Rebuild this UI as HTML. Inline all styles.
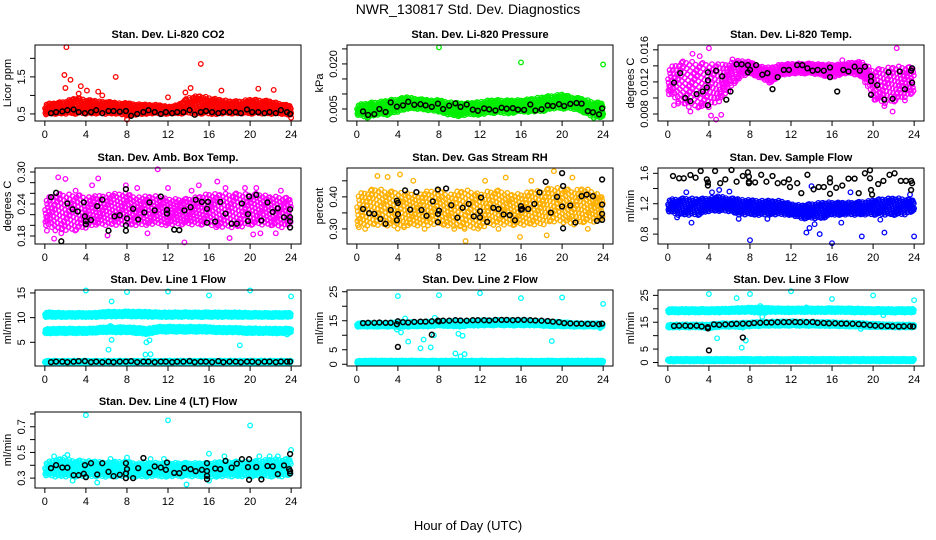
<!DOCTYPE html>
<html><head><meta charset="utf-8"><title>NWR_130817 Std. Dev. Diagnostics</title>
<style>
html,body{margin:0;padding:0;background:#fff;}
svg{display:block;font-family:"Liberation Sans",sans-serif;}
</style></head>
<body>
<svg id="chart" xmlns="http://www.w3.org/2000/svg" width="936" height="540" viewBox="0 0 936 540">
<rect x="0" y="0" width="936" height="540" fill="#fff"/>
<text x="468" y="14" text-anchor="middle" font-size="14">NWR_130817  Std. Dev. Diagnostics</text>
<text x="468" y="530" text-anchor="middle" font-size="13">Hour of Day (UTC)</text>
<g id="panels"></g>
</svg>
<script>
// ---------- shared ----------
const xTicks = [0,4,8,12,16,20,24];
const bh = [0.6,1.1,1.7,2.2,2.8,3.3,3.9,4.5,5.0,5.6,6.2,6.7,7.3,7.9,8.4,9.0,9.6,10.1,10.7,11.3,11.8,12.4,12.9,13.5,14.1,14.6,15.2,15.7,16.3,16.9,17.4,18.0,18.6,19.1,19.7,20.2,20.8,21.4,21.9,22.5,23.0,23.6,23.9];

// ---------- P1 CO2 ----------
const co2Lo = [0.48,0.5,0.5,0.5,0.5,0.5,0.5,0.5,0.45,0.48,0.5,0.5,0.5,0.5,0.5,0.5,0.48,0.5,0.5,0.5,0.5,0.5,0.5,0.5,0.45];
const co2Hi = [0.78,0.8,0.85,0.95,0.9,0.85,0.85,0.8,0.8,0.78,0.75,0.75,0.7,0.75,0.95,1.0,0.95,0.9,0.85,0.85,0.9,0.88,0.85,0.78,0.72];
const co2OutX = [2.1,1.9,2.5,2.0,6.9,15.2,3.5,4.1,5.2,14.2,17.2,20.8,22.3,13.7,8.0,24.0,3.3,5.6,12.0];
const co2OutY = [2.3,1.55,1.42,1.2,1.5,1.85,1.25,1.13,1.1,1.2,1.13,1.18,1.15,1.08,0.35,0.4,1.05,1.0,0.95];
const co2Blk = [0.52,0.55,0.57,0.6,0.62,0.55,0.52,0.55,0.6,0.52,0.58,0.58,0.56,0.58,0.45,0.5,0.55,0.6,0.55,0.5,0.55,0.52,0.55,0.55,0.6,0.48,0.55,0.58,0.55,0.52,0.55,0.55,0.55,0.52,0.62,0.55,0.55,0.52,0.55,0.52,0.6,0.55,0.5];

// ---------- P2 Pressure ----------
const prLo = [0.003,0.002,0.003,0.003,0.004,0.005,0.005,0.0045,0.004,0.003,0.0025,0.003,0.003,0.0035,0.0035,0.0035,0.004,0.004,0.004,0.005,0.005,0.005,0.004,0.002,0.002];
const prHi = [0.0065,0.007,0.0075,0.008,0.0085,0.009,0.0085,0.008,0.008,0.0075,0.007,0.007,0.0075,0.008,0.008,0.008,0.008,0.0085,0.009,0.0095,0.01,0.009,0.0085,0.0075,0.007];
const prOutX = [8,16,24];
const prOutY = [0.0255,0.0205,0.0198];
const prBlk = [0.0042,0.0030,0.0033,0.0050,0.0040,0.0072,0.0058,0.0062,0.0074,0.0064,0.0066,0.0062,0.0057,0.0068,0.0050,0.0061,0.0069,0.0057,0.0065,0.0048,0.0044,0.0052,0.0049,0.0045,0.0054,0.0051,0.0053,0.0048,0.0047,0.0065,0.0045,0.0049,0.0062,0.0060,0.0066,0.0060,0.0067,0.0070,0.0068,0.0043,0.0039,0.0032,0.0052];

// ---------- P3 Li-820 Temp ----------
const tmpLo = [0.0105,0.0095,0.0088,0.0088,0.0088,0.0095,0.011,0.0125,0.013,0.0125,0.0118,0.0128,0.013,0.013,0.013,0.0128,0.0125,0.013,0.013,0.0125,0.0098,0.0092,0.0095,0.01,0.0105];
const tmpHi = [0.0137,0.0145,0.0148,0.0145,0.0145,0.0142,0.0145,0.0147,0.0145,0.014,0.0138,0.0142,0.0143,0.0143,0.0143,0.0142,0.0142,0.0142,0.0145,0.0145,0.0135,0.0138,0.014,0.014,0.0138];
const tmpOutX = [4.0,22.3,4.7,4.2,2.2,0.6,1.0,3.3,5.2,6.3,21.1,21.9,23.1,17.0,2.4,0.3,3.1];
const tmpOutY = [0.0162,0.0162,0.0073,0.0078,0.0083,0.0091,0.0093,0.009,0.0079,0.0148,0.0090,0.0083,0.0097,0.0147,0.0155,0.0108,0.0152];
const tmpBlkX = [0.6,1.2,1.7,2.2,2.8,3.4,3.9,3.9,3.8,3.9,4.7,5.3,5.7,6.1,6.7,7.2,7.8,7.8,8.0,8.6,9.2,9.7,10.2,10.7,11.3,11.8,12.6,13.1,13.6,14.1,14.6,15.2,15.8,15.8,16.5,17.1,17.6,18.2,18.7,19.2,19.8,19.8,19.8,20.4,21.1,21.5,21.9,22.6,23.1,23.7,23.8,23.8];
const tmpBlkY = [0.0119,0.0131,0.0100,0.0096,0.0105,0.0108,0.0132,0.0122,0.0113,0.0091,0.0134,0.0127,0.0098,0.0108,0.0142,0.0142,0.0141,0.0132,0.0135,0.0141,0.0129,0.0131,0.0111,0.0126,0.0135,0.0135,0.0141,0.0141,0.0137,0.0134,0.0135,0.0134,0.0138,0.0126,0.0108,0.0135,0.0133,0.0139,0.0134,0.0139,0.0127,0.0121,0.0104,0.0116,0.0098,0.0132,0.0099,0.0133,0.0111,0.0134,0.0137,0.0119];

// ---------- P4 Amb Box Temp ----------
const ambLo = [0.2,0.19,0.19,0.19,0.195,0.2,0.2,0.2,0.2,0.2,0.2,0.2,0.2,0.2,0.2,0.2,0.2,0.195,0.195,0.195,0.2,0.2,0.2,0.195,0.2];
const ambHi = [0.25,0.26,0.26,0.26,0.255,0.255,0.26,0.26,0.26,0.255,0.255,0.255,0.25,0.25,0.25,0.255,0.26,0.26,0.26,0.26,0.26,0.26,0.255,0.255,0.25];
const ambOutX = [1.3,2.0,5.2,11.0,16.8,13.6,0.2,0.9,18.0,20.3,6.1,4.6,12.0,9.0,15.0,20.6,23.0,21.0,7.9,3.0,10.0,14.3,22.5,17.6,1.6,19.5];
const ambOutY = [0.29,0.287,0.288,0.305,0.282,0.168,0.19,0.175,0.176,0.183,0.181,0.275,0.27,0.27,0.275,0.27,0.265,0.185,0.275,0.265,0.185,0.265,0.185,0.27,0.185,0.27];
const ambBlkX = [0.6,1.1,1.6,2.2,2.7,3.2,3.8,3.9,4.0,4.0,4.5,5.1,5.6,6.2,6.8,7.3,7.9,8.0,7.9,7.9,8.6,9.1,9.7,10.2,10.7,11.3,11.9,11.9,12.6,13.1,13.6,14.2,14.7,15.3,15.9,15.8,15.8,16.6,17.1,17.6,18.2,18.7,19.2,19.9,19.8,19.8,20.6,21.1,21.7,22.2,22.7,23.3,23.9,23.9,23.9,23.9];
const ambBlkY = [0.253,0.261,0.17,0.241,0.23,0.226,0.243,0.217,0.208,0.202,0.21,0.236,0.248,0.19,0.217,0.219,0.268,0.213,0.2,0.19,0.231,0.211,0.224,0.243,0.228,0.254,0.229,0.222,0.192,0.191,0.228,0.234,0.248,0.244,0.244,0.231,0.205,0.207,0.244,0.222,0.203,0.203,0.241,0.254,0.221,0.208,0.257,0.209,0.243,0.225,0.232,0.215,0.23,0.215,0.208,0.196];

// ---------- P5 Gas Stream RH ----------
const rhLo = [0.31,0.31,0.31,0.31,0.3,0.31,0.31,0.31,0.31,0.31,0.3,0.3,0.3,0.31,0.31,0.31,0.31,0.31,0.31,0.32,0.32,0.31,0.32,0.32,0.33];
const rhHi = [0.41,0.42,0.43,0.42,0.42,0.41,0.41,0.42,0.42,0.41,0.42,0.42,0.41,0.42,0.42,0.41,0.41,0.42,0.42,0.43,0.43,0.42,0.43,0.42,0.4];
const rhOutX = [10.6,15.9,18.5,19.2,2.0,3.0,4.2,12.5,21.0,0.2,0.8,4.6,6.6,10.5,13.8,22.5,17.0,14.5,5.5,9.5];
const rhOutY = [0.262,0.275,0.28,0.48,0.465,0.462,0.47,0.45,0.46,0.305,0.3,0.305,0.3,0.3,0.3,0.3,0.45,0.46,0.45,0.3];
const rhBlkX = [0.6,1.2,1.7,2.3,2.8,3.3,3.9,4.0,4.0,3.9,4.7,5.2,5.8,6.3,6.8,7.4,7.9,8.0,7.9,7.9,8.7,9.2,9.8,10.3,10.9,11.4,12.0,12.0,12.1,12.7,13.3,13.8,14.3,14.9,15.4,16.0,16.1,16.0,16.7,17.3,17.8,18.4,18.9,19.5,20.0,20.1,20.0,20.1,20.8,21.3,21.9,22.4,23.0,23.4,23.9,23.9,23.9,23.9];
const rhBlkY = [0.362,0.349,0.347,0.331,0.316,0.359,0.388,0.381,0.346,0.327,0.42,0.36,0.415,0.359,0.341,0.386,0.423,0.357,0.347,0.321,0.426,0.374,0.335,0.366,0.378,0.339,0.336,0.355,0.398,0.322,0.366,0.362,0.345,0.343,0.327,0.371,0.362,0.36,0.362,0.378,0.414,0.447,0.351,0.40,0.474,0.434,0.37,0.302,0.373,0.32,0.402,0.407,0.402,0.325,0.376,0.347,0.328,0.454];

// ---------- P6 Sample Flow ----------
const sfLo = [1.1,1.05,1.05,1.05,1.1,1.1,1.1,1.05,1.05,1.05,1.05,1.05,1.05,1.0,1.0,1.0,1.05,1.05,1.05,1.05,1.05,1.05,1.05,1.05,1.1];
const sfHi = [1.26,1.27,1.28,1.27,1.28,1.3,1.28,1.26,1.25,1.25,1.24,1.24,1.2,1.18,1.2,1.22,1.22,1.22,1.22,1.23,1.25,1.27,1.28,1.27,1.25];
const sfOutX = [8,16,18.9,21.1,24,13.5,2.3,14.8,1.8,4.3,5.0,6.0,14.0,17.8,23.6,13.8,14.3,0.9,6.9,20.7,16.9,9.7];
const sfOutY = [0.72,0.68,0.77,0.82,0.77,0.82,0.95,0.8,1.35,1.35,1.38,1.36,1.43,1.35,1.32,0.88,0.93,1.02,1.0,0.99,0.95,1.0];
const sfBlkX = [0.5,1.1,1.55,2.2,2.7,3.2,3.8,3.9,3.9,4.6,5.1,5.6,6.2,6.7,7.3,7.8,7.9,7.9,7.9,8.5,9.1,9.6,10.2,10.7,11.3,11.8,11.9,12.6,13.0,13.6,14.2,14.7,15.2,15.8,15.8,15.8,16.4,17.0,17.6,18.2,18.6,19.2,19.7,19.7,19.8,19.9,20.5,21.0,21.6,22.1,22.7,23.2,23.7,23.8,23.7];
const sfBlkY = [1.565,1.534,1.534,1.578,1.543,1.63,1.52,1.48,1.44,1.63,1.47,1.52,1.644,1.49,1.565,1.613,1.556,1.49,1.47,1.48,1.58,1.49,1.565,1.47,1.48,1.52,1.42,1.47,1.34,1.58,1.39,1.42,1.42,1.534,1.48,1.33,1.41,1.44,1.53,1.53,1.34,1.6,1.64,1.534,1.38,1.32,1.46,1.5,1.58,1.6,1.5,1.5,1.5,1.47,1.38];

// ---------- P7 Line 1 ----------
const l1TopLo = [10.1,10.1,10.1,10.1,10.1,10.1,10.2,10.2,10.2,10.2,10.1,10.1,10.1,10.1,10.1,10.1,10.1,10.1,10.1,10.1,10.1,10.1,10.1,10.1,10.1];
const l1TopHi = [11.1,11.1,11.0,11.0,11.0,11.0,11.3,11.2,11.3,11.3,11.2,11.1,11.1,11.1,11.1,11.1,11.1,11.1,11.1,11.1,11.0,11.0,11.0,11.0,11.0];
const l1MidLo = [6.8,6.8,6.8,6.8,6.8,6.9,7.0,7.0,7.0,6.8,6.6,7.1,7.1,7.1,7.1,7.1,7.1,7.0,7.0,6.9,6.8,6.8,6.8,6.8,6.8];
const l1MidHi = [7.8,7.8,7.8,7.8,7.8,7.9,8.1,8.1,8.1,8.0,7.8,8.2,8.2,8.2,8.2,8.2,8.1,8.0,8.0,7.9,7.9,7.8,7.8,7.8,7.8];
const l1BotLo = [0.7,0.7,0.7,0.7,0.7,0.7,0.7,0.7,0.7,0.7,0.7,0.7,0.7,0.7,0.7,0.7,0.7,0.7,0.7,0.7,0.7,0.7,0.7,0.7,0.7];
const l1BotHi = [1.3,1.3,1.3,1.3,1.3,1.3,1.3,1.3,1.3,1.3,1.3,1.3,1.3,1.3,1.3,1.3,1.3,1.3,1.3,1.3,1.3,1.3,1.3,1.3,1.3];
const l1OutX = [4,8,12,16,20,24,6.5,6.2,6.5,6.4,9.8,10.3,10.2,9.9,10.0,19.0,7.4,23.6];
const l1OutY = [15.5,15.2,15.3,14.5,15.5,14.3,13.3,3.5,5.5,8.3,2.5,2.6,5.4,5.0,6.8,4.4,7.0,6.6];
const l1Blk = [1,1.1,1.1,1,1.1,1.2,1.2,1,1.1,1,1.1,1,1.1,1.1,1.2,1,1.1,1.1,1,1.1,1.1,1,1.1,1.1,1.2,1,1.1,1.1,1,1.2,1,1.1,1.1,1,1.1,1.1,1,1.1,1.1,1,1.1,1.1,1.1];

// ---------- P8 Line 2 ----------
const l2TopLo = [12.9,12.9,12.9,12.9,12.8,12.9,13.0,13.0,13.2,13.1,12.8,13.2,13.3,13.3,13.3,13.3,13.3,13.3,13.2,13.0,13.0,12.9,12.9,12.9,12.9];
const l2TopHi = [14.2,14.3,14.3,14.3,14.6,14.6,14.6,14.8,14.9,15.0,14.9,15.0,15.2,15.2,15.3,15.3,15.2,15.1,14.9,14.8,14.6,14.3,14.2,14.2,14.2];
const l2BotLo = [0.4,0.4,0.4,0.4,0.4,0.4,0.4,0.4,0.4,0.4,0.4,0.4,0.4,0.4,0.4,0.4,0.4,0.4,0.4,0.4,0.4,0.4,0.4,0.4,0.4];
const l2BotHi = [1.3,1.3,1.3,1.3,1.3,1.3,1.3,1.3,1.3,1.3,1.3,1.3,1.3,1.3,1.3,1.3,1.3,1.3,1.3,1.3,1.3,1.3,1.3,1.3,1.3];
const l2OutX = [4,8,12,16,20,24,4.3,5.0,6.2,6.5,7.2,7.6,9.6,10.1,10.5,9.9,10.3,19,4.7,23.7,3.9,7.5];
const l2OutY = [23.5,23.8,24.5,22.8,23,20.8,11,7.8,5.5,8.5,5.8,16,3.7,2.7,3.5,10.5,9.8,8,15.8,12.5,12.0,10.0];
const l2Blk = [14.2,14.3,14.3,14.4,14.3,14.3,13.8,14.5,14.4,14.6,14.7,14.7,14.8,15.0,15.0,15.0,15.2,15.1,15.0,15.2,15.2,15.2,15.1,15.3,15.3,15.3,15.2,15.3,15.3,15.2,15.1,15.0,14.9,14.7,14.5,14.2,14.1,14.0,14.0,13.9,13.9,13.8,14.0];
const l2ExtraX = [4.0,7.3,4.0,8.0];
const l2ExtraY = [6.0,10.2,14.8,14.8];

// ---------- P9 Line 3 ----------
const l3TopLo = [18.6,18.6,18.6,18.6,18.6,18.6,18.7,18.7,18.7,18.5,18.7,18.7,18.7,18.7,18.7,18.7,18.7,18.7,18.6,18.6,18.6,18.6,18.6,18.6,18.6];
const l3TopHi = [20.0,20.0,20.0,20.0,20.0,20.0,20.2,20.3,20.5,20.6,20.3,20.2,20.2,20.2,20.2,20.2,20.3,20.2,20.2,20.1,20.0,20.0,20.0,20.0,20.0];
const l3MidLo = [13.0,13.0,13.0,13.0,12.6,13.2,13.2,13.2,13.4,13.5,13.6,13.6,13.6,13.6,13.6,13.5,13.5,13.4,13.3,13.2,13.1,13.0,13.0,13.0,12.9];
const l3MidHi = [14.2,14.2,14.2,14.2,14.2,14.6,14.7,14.8,15.0,15.2,15.3,15.4,15.4,15.4,15.3,15.2,15.1,15.0,14.9,14.7,14.5,14.3,14.2,14.2,14.1];
const l3BotLo = [0.4,0.4,0.4,0.4,0.4,0.4,0.4,0.4,0.4,0.4,0.4,0.4,0.4,0.4,0.4,0.4,0.4,0.4,0.4,0.4,0.4,0.4,0.4,0.4,0.4];
const l3BotHi = [1.4,1.4,1.4,1.4,1.4,1.4,1.4,1.4,1.4,1.4,1.4,1.4,1.4,1.4,1.4,1.4,1.4,1.4,1.4,1.4,1.4,1.4,1.4,1.4,1.4];
const l3OutX = [4,8,12,16,20,24,4.8,7.2,7.6,6.7,9.0,9.2,7.3,18.8,21.0,8.9,9.5,13.5];
const l3OutY = [25.5,25.5,26.5,23.7,25,23.2,9,5.5,8.2,24,21,17,13,12.5,17.6,19.8,18.5,20.5];
const l3Blk = [13.6,13.7,13.7,13.6,13.7,13.4,13.2,14.2,14.0,14.2,14.3,14.4,14.5,14.5,14.7,14.8,14.9,14.9,15.0,15.0,15.1,15.1,15.0,15.0,15.1,14.8,14.7,14.6,14.6,14.5,14.5,14.4,14.3,14.1,13.9,13.7,13.6,13.6,13.5,13.4,13.5,13.5,13.4];
const l3ExtraX = [4.0,7.3,3.9];
const l3ExtraY = [4.5,9.3,12.7];

// ---------- P10 Line 4 ----------
const l4Lo = [0.32,0.31,0.31,0.31,0.31,0.31,0.31,0.31,0.31,0.31,0.31,0.31,0.31,0.31,0.31,0.31,0.31,0.31,0.31,0.31,0.31,0.31,0.31,0.31,0.32];
const l4Hi = [0.42,0.45,0.45,0.44,0.44,0.43,0.43,0.43,0.43,0.42,0.42,0.42,0.42,0.42,0.42,0.42,0.42,0.43,0.43,0.43,0.43,0.44,0.45,0.45,0.45];
const l4OutX = [4,12,20,24,16,13.8,5.1,2.7,16,20.9,0.9,2.2,8.0,11.6,17.5,21.9,22.7,1.9,10.3,6.4];
const l4OutY = [0.79,0.75,0.71,0.52,0.49,0.25,0.265,0.28,0.28,0.47,0.47,0.48,0.46,0.45,0.47,0.47,0.47,0.46,0.45,0.45];
const l4BlkX = [0.6,1.1,1.7,2.2,2.8,3.3,3.8,3.9,4.0,4.5,5.1,5.6,6.2,6.7,7.3,7.9,8.0,7.9,7.9,8.6,9.1,9.6,10.2,10.7,11.3,11.8,11.9,12.6,13.1,13.6,14.2,14.7,15.3,15.8,15.8,15.8,15.8,16.6,17.1,17.6,18.2,18.7,19.2,19.9,19.8,19.9,20.6,21.1,21.7,22.2,22.7,23.3,23.9,23.8,23.9,23.9];
const l4BlkY = [0.378,0.401,0.383,0.381,0.323,0.323,0.334,0.401,0.308,0.416,0.328,0.416,0.349,0.315,0.326,0.416,0.37,0.336,0.30,0.30,0.378,0.457,0.344,0.391,0.383,0.365,0.422,0.341,0.339,0.378,0.37,0.355,0.365,0.416,0.355,0.318,0.292,0.375,0.37,0.434,0.381,0.413,0.447,0.447,0.386,0.287,0.386,0.29,0.394,0.391,0.331,0.399,0.488,0.37,0.355,0.336];

// ---------- rendering ----------
const NS = "http://www.w3.org/2000/svg";
const root = document.getElementById('panels');
const colX = [35, 347, 658], rowY = [45, 168, 290, 412], PW = 266, PH = 76;

function mk(tag, attrs, parent){
  const e = document.createElementNS(NS, tag);
  for (const k in attrs) e.setAttribute(k, attrs[k]);
  parent.appendChild(e);
  return e;
}
function interp(arr, h){
  const i = Math.max(0, Math.min(23, Math.floor(h)));
  const f = h - i;
  return arr[i] + (arr[i+1]-arr[i]) * f;
}

const panels = [
 {title:"Stan. Dev. Li-820 CO2", yt:"Licor ppm", c:0,r:0, ymin:0.31,ymax:2.36, ticks:[0.5,1,1.5,2], labs:["0.5","","1.5",""], color:"#ff0000",
  bands:[[co2Lo,co2Hi]], dens:40, outX:co2OutX,outY:co2OutY, blkX:bh, blkY:co2Blk},
 {title:"Stan. Dev. Li-820 Pressure", yt:"kPa", c:1,r:0, ymin:0.001,ymax:0.0263, ticks:[0.005,0.01,0.015,0.02,0.025], labs:["0.005","","","0.020",""], color:"#00ee00",
  bands:[[prLo,prHi]], dens:40, outX:prOutX,outY:prOutY, blkX:bh, blkY:prBlk},
 {title:"Stan. Dev. Li-820 Temp.", yt:"degrees C", c:2,r:0, ymin:0.00713,ymax:0.0166, ticks:[0.008,0.010,0.012,0.014,0.016], labs:["0.008","","0.012","","0.016"], color:"#ff00ff",
  bands:[[tmpLo,tmpHi]], dens:34, outX:tmpOutX,outY:tmpOutY, blkX:tmpBlkX, blkY:tmpBlkY},
 {title:"Stan. Dev. Amb. Box Temp.", yt:"degrees C", c:0,r:1, ymin:0.165,ymax:0.3075, ticks:[0.18,0.20,0.22,0.24,0.26,0.28,0.30], labs:["0.18","","","0.24","","","0.30"], color:"#ff00ff",
  bands:[[ambLo,ambHi]], dens:34, outX:ambOutX,outY:ambOutY, blkX:ambBlkX, blkY:ambBlkY},
 {title:"Stan. Dev. Gas Stream RH", yt:"percent", c:1,r:1, ymin:0.253,ymax:0.49, ticks:[0.30,0.35,0.40,0.45], labs:["0.30","","0.40",""], color:"#ffb000",
  bands:[[rhLo,rhHi]], dens:32, outX:rhOutX,outY:rhOutY, blkX:rhBlkX, blkY:rhBlkY},
 {title:"Stan. Dev. Sample Flow", yt:"ml/min", c:2,r:1, ymin:0.67,ymax:1.67, ticks:[0.8,1.0,1.2,1.4,1.6], labs:["0.8","","1.2","","1.6"], color:"#0000ff",
  bands:[[sfLo,sfHi]], dens:36, outX:sfOutX,outY:sfOutY, blkX:sfBlkX, blkY:sfBlkY},
 {title:"Stan. Dev. Line 1 Flow", yt:"ml/min", c:0,r:2, ymin:0.2,ymax:15.6, ticks:[5,10,15], labs:["5","10","15"], color:"#00ffff",
  bands:[[l1TopLo,l1TopHi],[l1MidLo,l1MidHi],[l1BotLo,l1BotHi]], dens:30, outX:l1OutX,outY:l1OutY, blkX:bh, blkY:l1Blk},
 {title:"Stan. Dev. Line 2 Flow", yt:"ml/min", c:1,r:2, ymin:-0.6,ymax:25.6, ticks:[0,5,10,15,20,25], labs:["0","5","","15","","25"], color:"#00ffff",
  bands:[[l2TopLo,l2TopHi],[l2BotLo,l2BotHi]], dens:30, outX:l2OutX,outY:l2OutY, blkX:bh.concat(l2ExtraX), blkY:l2Blk.concat(l2ExtraY)},
 {title:"Stan. Dev. Line 3 Flow", yt:"ml/min", c:2,r:2, ymin:-1.3,ymax:27, ticks:[0,5,10,15,20,25], labs:["0","5","","15","","25"], color:"#00ffff",
  bands:[[l3TopLo,l3TopHi],[l3MidLo,l3MidHi],[l3BotLo,l3BotHi]], dens:30, outX:l3OutX,outY:l3OutY, blkX:bh.concat(l3ExtraX), blkY:l3Blk.concat(l3ExtraY)},
 {title:"Stan. Dev. Line 4 (LT) Flow", yt:"ml/min", c:0,r:3, ymin:0.223,ymax:0.815, ticks:[0.3,0.4,0.5,0.6,0.7,0.8], labs:["0.3","","0.5","","0.7",""], color:"#00ffff",
  bands:[[l4Lo,l4Hi]], dens:34, outX:l4OutX,outY:l4OutY, blkX:l4BlkX, blkY:l4BlkY}
];

panels.forEach((p, idx) => {
  const x0 = colX[p.c], y0 = rowY[p.r];
  const xs = h => x0 + (h + 0.96) / 25.92 * PW;
  const ys = v => y0 + PH - (v - p.ymin) / (p.ymax - p.ymin) * PH;
  const g = mk('g', {}, root);
  
  

  const t = mk('text', {x: x0 + PW/2, y: y0 - 7, 'text-anchor':'middle', 'font-size':'11', 'font-weight':'bold'}, g);
  t.textContent = p.title;
  
  

  // clouds: fill each band (lo/hi read per hour) with an even 2-D low-discrepancy scatter
  const cloud = mk('g', {fill:'none', stroke:p.color, 'stroke-width':'1.3'}, g);
  
  
  p.bands.forEach((b, bi) => {
    const n = Math.round(24 * p.dens);
    for (let k = 1; k <= n; k++) {
      const h = 24 * ((k * 0.7548776662 + bi * 0.31) % 1);
      const f = (k * 0.5698402910 + bi * 0.17) % 1;
      const lo = interp(b[0], h), hi = interp(b[1], h);
      const c = mk('circle', {cx: xs(h).toFixed(1), cy: ys(lo + (hi-lo)*f).toFixed(1), r: 2.3}, cloud);
      
      
    }
  });
  p.outX.forEach((h, i) => {
    const c = mk('circle', {cx: xs(h).toFixed(1), cy: ys(p.outY[i]).toFixed(1), r: 2.3}, cloud);
    
    
  });
  // black series
  const blk = mk('g', {fill:'none', stroke:'#000', 'stroke-width':'1.5'}, g);
  
  
  p.blkX.forEach((h, i) => {
    const c = mk('circle', {cx: xs(h).toFixed(1), cy: ys(p.blkY[i]).toFixed(1), r: 2.4}, blk);
    
    
  });

  // box
  const box = mk('rect', {x: x0, y: y0, width: PW, height: PH, fill:'none', stroke:'#000', 'stroke-width':'1'}, g);
  
  

  // x axis
  const xa = mk('g', {}, g);
  
  
  xTicks.forEach(v => {
    mk('line', {x1: xs(v), x2: xs(v), y1: y0+PH, y2: y0+PH+5, stroke:'#000'}, xa);
    const tl = mk('text', {x: xs(v), y: y0+PH+17, 'text-anchor':'middle', 'font-size':'11'}, xa);
    tl.textContent = v;
    
    
  });
  // y axis
  const ya = mk('g', {}, g);
  
  
  p.ticks.forEach((v, i) => {
    const yy = ys(v);
    mk('line', {x1: x0-5, x2: x0, y1: yy, y2: yy, stroke:'#000'}, ya);
    if (p.labs[i]) {
      const tl = mk('text', {x: x0-10, y: yy, 'text-anchor':'middle', 'font-size':'11', transform:`rotate(-90 ${x0-10} ${yy})`}, ya);
      tl.textContent = p.labs[i];
      
      
    }
  });
  const yt = mk('text', {x: x0-24, y: y0+PH/2, 'text-anchor':'middle', 'font-size':'11', transform:`rotate(-90 ${x0-24} ${y0+PH/2})`}, ya);
  yt.textContent = p.yt;
  
  
});
</script>
</body></html>
